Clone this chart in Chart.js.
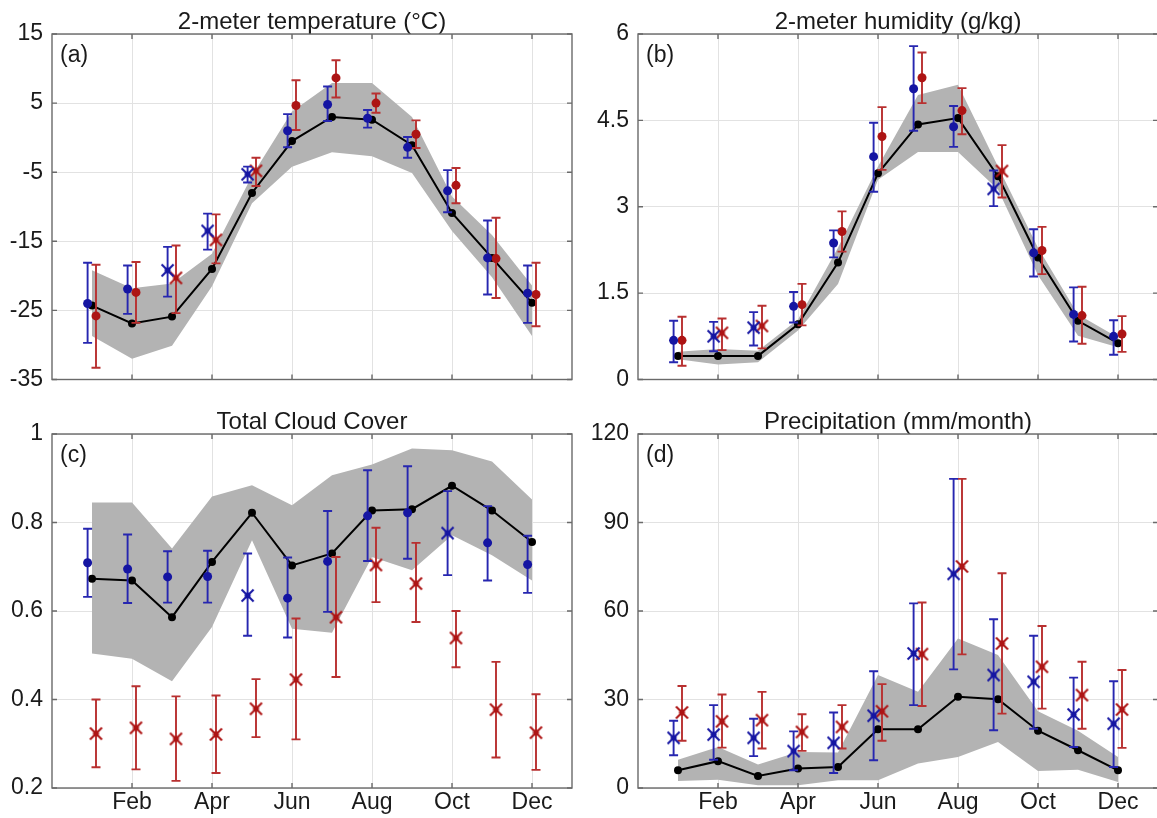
<!DOCTYPE html>
<html>
<head>
<meta charset="utf-8">
<script src="https://cdn.jsdelivr.net/npm/chart.js@4.4.1/dist/chart.umd.min.js"></script>
<style>
  html, body { margin: 0; padding: 0; background: #fff; overflow: hidden; }
  #wrap { position: relative; width: 1157px; height: 818px; overflow: hidden; }
  canvas { position: absolute; }
</style>
</head>
<body>
<div id="wrap">
  <canvas id="panelA" width="578" height="400" style="left:0;top:0"></canvas>
  <canvas id="panelB" width="578" height="400" style="left:586px;top:0"></canvas>
  <canvas id="panelC" width="578" height="418" style="left:0;top:400px"></canvas>
  <canvas id="panelD" width="578" height="418" style="left:586px;top:400px"></canvas>
</div>
<script>
// months on the x axis and the labelled ticks
var months = [1, 2, 3, 4, 5, 6, 7, 8, 9, 10, 11, 12];
var tickMonths = [2, 4, 6, 8, 10, 12];
var tickLabels = ['Feb', 'Apr', 'Jun', 'Aug', 'Oct', 'Dec'];

// (a) 2-meter temperature
var tempModel = [-24.3, -26.9, -25.9, -19.0, -8.0, -0.5, 3.0, 2.6, -1.1, -10.9, -17.4, -23.9];
var tempUpper = [-19.2, -21.8, -21.1, -16.8, -5.5, 3.8, 7.9, 7.9, 3.0, -8.5, -14.1, -21.4];
var tempLower = [-28.7, -32.0, -30.1, -21.5, -9.5, -4.2, -2.1, -2.7, -5.1, -13.5, -20.2, -28.7];
var tempBlue = [-24.0, -21.9, -19.2, -13.5, -5.3, 1.0, 4.8, 2.8, -1.4, -7.7, -17.4, -22.5];
var tempBlueHi = [-18.1, -18.5, -15.8, -11.0, -4.2, 3.4, 7.4, 4.0, 0.1, -4.7, -12.0, -18.5];
var tempBlueLo = [-29.7, -25.5, -23.0, -16.2, -6.5, -1.4, 2.4, 1.45, -2.9, -10.8, -22.7, -26.8];
var tempRed = [-25.8, -22.4, -20.3, -14.8, -4.8, 4.65, 8.65, 5.0, 0.5, -6.9, -17.5, -22.7];
var tempRedHi = [-18.4, -18.0, -15.6, -11.1, -2.9, 8.3, 11.2, 6.4, 2.5, -4.4, -11.6, -18.1];
var tempRedLo = [-33.3, -26.8, -25.4, -18.2, -7.0, 1.1, 5.8, 3.6, -1.5, -9.5, -23.2, -27.3];
var tempBlueSig = [0, 0, 1, 1, 1, 0, 0, 0, 0, 0, 0, 0];
var tempRedSig = [0, 0, 1, 1, 1, 0, 0, 0, 0, 0, 0, 0];

// (b) 2-meter humidity
var humModel = [0.41, 0.41, 0.41, 0.96, 2.03, 3.58, 4.43, 4.54, 3.53, 2.12, 1.02, 0.63];
var humUpper = [0.48, 0.53, 0.50, 1.04, 2.29, 3.70, 4.94, 5.12, 3.70, 2.29, 1.13, 0.73];
var humLower = [0.35, 0.26, 0.30, 0.85, 1.66, 3.47, 3.95, 3.95, 3.30, 1.81, 0.76, 0.56];
var humBlue = [0.68, 0.75, 0.90, 1.27, 2.37, 3.87, 5.05, 4.39, 3.31, 2.20, 1.13, 0.75];
var humBlueHi = [1.02, 1.00, 1.17, 1.52, 2.59, 4.46, 5.79, 4.75, 3.63, 2.61, 1.60, 1.03];
var humBlueLo = [0.30, 0.49, 0.59, 0.99, 2.12, 3.26, 4.32, 4.04, 3.01, 1.79, 0.66, 0.43];
var humRed = [0.68, 0.81, 0.93, 1.30, 2.57, 4.22, 5.24, 4.67, 3.62, 2.24, 1.11, 0.79];
var humRedHi = [1.09, 1.06, 1.28, 1.66, 2.92, 4.73, 5.68, 5.06, 4.07, 2.65, 1.61, 1.10];
var humRedLo = [0.24, 0.51, 0.54, 0.94, 2.22, 3.64, 4.80, 4.26, 3.16, 1.83, 0.62, 0.48];
var humBlueSig = [0, 1, 1, 0, 0, 0, 0, 0, 1, 0, 0, 0];
var humRedSig = [0, 1, 1, 0, 0, 0, 0, 0, 1, 0, 0, 0];

// (c) total cloud cover
var cloudModel = [0.673, 0.669, 0.586, 0.711, 0.822, 0.703, 0.730, 0.827, 0.830, 0.883, 0.827, 0.756];
var cloudUpper = [0.845, 0.845, 0.741, 0.859, 0.884, 0.839, 0.907, 0.931, 0.967, 0.963, 0.938, 0.852];
var cloudLower = [0.504, 0.492, 0.441, 0.564, 0.760, 0.560, 0.551, 0.722, 0.692, 0.771, 0.726, 0.669];
var cloudBlue = [0.709, 0.695, 0.677, 0.678, 0.635, 0.629, 0.712, 0.815, 0.822, 0.776, 0.754, 0.705];
var cloudBlueHi = [0.786, 0.773, 0.735, 0.736, 0.730, 0.721, 0.826, 0.918, 0.927, 0.871, 0.837, 0.770];
var cloudBlueLo = [0.632, 0.618, 0.619, 0.619, 0.544, 0.540, 0.598, 0.713, 0.718, 0.681, 0.669, 0.641];
var cloudRed = [0.323, 0.336, 0.311, 0.321, 0.379, 0.445, 0.586, 0.704, 0.662, 0.539, 0.377, 0.325];
var cloudRedHi = [0.400, 0.430, 0.407, 0.409, 0.446, 0.583, 0.722, 0.788, 0.754, 0.600, 0.485, 0.412];
var cloudRedLo = [0.247, 0.242, 0.216, 0.234, 0.315, 0.310, 0.451, 0.620, 0.575, 0.473, 0.269, 0.241];
var cloudBlueSig = [0, 0, 0, 0, 1, 0, 0, 0, 0, 1, 0, 0];
var cloudRedSig = [1, 1, 1, 1, 1, 1, 1, 1, 1, 1, 1, 1];

// (d) precipitation
var precModel = [6.0, 9.1, 4.1, 6.6, 7.1, 19.9, 19.9, 30.9, 30.1, 19.4, 12.8, 6.0];
var precUpper = [9.6, 13.9, 8.0, 12.2, 12.0, 38.3, 32.6, 50.7, 45.1, 26.0, 19.4, 10.5];
var precLower = [2.4, 2.8, 0.9, 0.9, 2.6, 2.6, 8.3, 10.5, 15.6, 5.8, 6.2, 2.0];
var precBlue = [17.0, 18.1, 17.0, 12.5, 15.3, 24.5, 45.6, 72.6, 38.3, 36.0, 24.9, 21.8];
var precBlueHi = [22.8, 28.1, 23.5, 19.2, 25.6, 39.6, 62.6, 104.8, 57.2, 51.6, 37.4, 36.2];
var precBlueLo = [11.1, 9.6, 10.8, 6.0, 5.1, 9.4, 28.1, 40.2, 19.6, 20.1, 13.9, 7.1];
var precRed = [25.6, 22.6, 23.0, 19.0, 20.7, 26.0, 45.4, 75.1, 49.0, 41.1, 31.5, 26.6];
var precRedHi = [34.6, 31.7, 32.6, 25.0, 28.1, 35.2, 62.9, 104.8, 72.8, 54.9, 42.8, 40.0];
var precRedLo = [16.0, 13.7, 13.4, 12.6, 13.4, 16.0, 27.8, 45.3, 25.2, 26.9, 20.1, 13.6];
var precBlueSig = [1, 1, 1, 1, 1, 1, 1, 1, 1, 1, 1, 1];
var precRedSig = [1, 1, 1, 1, 1, 1, 1, 1, 1, 1, 1, 1];

var FONT = "'Liberation Sans', Arial, Helvetica, sans-serif";
var BLUE = '#1515a2';
var RED = '#ad1414';
var BLUE_BAR = '#2626b0';
var RED_BAR = '#b83030';

Chart.defaults.font.family = FONT;
Chart.defaults.color = '#1a1a1a';

function pts(arr, dx) {
  return months.map(function (m, i) { return { x: m + dx, y: arr[i] }; });
}

// "x" marker with a filled centre
function crossMarker(color) {
  var c = document.createElement('canvas');
  c.width = 17; c.height = 17;
  var g = c.getContext('2d');
  g.strokeStyle = color;
  g.lineWidth = 2;
  g.beginPath();
  g.moveTo(2.5, 2.5); g.lineTo(14.5, 14.5);
  g.moveTo(14.5, 2.5); g.lineTo(2.5, 14.5);
  g.stroke();
  g.fillStyle = color;
  g.beginPath();
  g.arc(8.5, 8.5, 3, 0, Math.PI * 2);
  g.fill();
  return c;
}
var blueCross = crossMarker(BLUE);
var redCross = crossMarker(RED);

// error bars, axes box, inward ticks and panel letter
var framePlugin = {
  id: 'frame',
  beforeDatasetDraw: function (chart, args) {
    var ds = chart.data.datasets[args.index];
    if (!ds.errLo) return;
    var xs = chart.scales.x, ys = chart.scales.y, ctx = chart.ctx;
    ctx.save();
    ctx.strokeStyle = ds.errColor;
    ctx.lineWidth = 1.9;
    ctx.beginPath();
    ds.data.forEach(function (p, i) {
      var x = xs.getPixelForValue(p.x);
      var y1 = ys.getPixelForValue(ds.errLo[i]);
      var y2 = ys.getPixelForValue(ds.errHi[i]);
      ctx.moveTo(x, y1); ctx.lineTo(x, y2);
      ctx.moveTo(x - 4.5, y1); ctx.lineTo(x + 4.5, y1);
      ctx.moveTo(x - 4.5, y2); ctx.lineTo(x + 4.5, y2);
    });
    ctx.stroke();
    ctx.restore();
  },
  afterDraw: function (chart, args, opts) {
    var a = chart.chartArea, ctx = chart.ctx;
    var xs = chart.scales.x, ys = chart.scales.y;
    ctx.save();
    ctx.strokeStyle = '#6a6a6a';
    ctx.lineWidth = 1.4;
    ctx.strokeRect(a.left, a.top, a.right - a.left, a.bottom - a.top);
    ctx.beginPath();
    xs.ticks.forEach(function (t) {
      var x = xs.getPixelForValue(t.value);
      ctx.moveTo(x, a.bottom); ctx.lineTo(x, a.bottom - 5);
      ctx.moveTo(x, a.top); ctx.lineTo(x, a.top + 5);
    });
    ys.ticks.forEach(function (t) {
      var y = ys.getPixelForValue(t.value);
      ctx.moveTo(a.left, y); ctx.lineTo(a.left + 5, y);
      ctx.moveTo(a.right, y); ctx.lineTo(a.right - 5, y);
    });
    ctx.stroke();
    ctx.fillStyle = '#1a1a1a';
    ctx.font = '23px ' + FONT;
    ctx.textBaseline = 'middle';
    ctx.fillText(opts.letter, a.left + 8, a.top + 22);
    ctx.restore();
  }
};

function makePanel(id, p) {
  return new Chart(document.getElementById(id), {
    type: 'line',
    data: {
      datasets: [{
        data: pts(p.blue, -0.11),
        errLo: p.blueLo, errHi: p.blueHi, errColor: BLUE_BAR,
        showLine: false,
        pointStyle: p.blueSig.map(function (s) { return s ? blueCross : 'circle'; }),
        pointRadius: 4.5,
        pointBackgroundColor: BLUE,
        pointBorderWidth: 0,
        order: 1
      }, {
        data: pts(p.red, 0.1),
        errLo: p.redLo, errHi: p.redHi, errColor: RED_BAR,
        showLine: false,
        pointStyle: p.redSig.map(function (s) { return s ? redCross : 'circle'; }),
        pointRadius: 4.5,
        pointBackgroundColor: RED,
        pointBorderWidth: 0,
        order: 1
      }, {
        data: pts(p.model, 0),
        borderColor: '#000',
        borderWidth: 2,
        pointRadius: 4,
        pointBackgroundColor: '#000',
        pointBorderWidth: 0,
        tension: 0,
        order: 2
      }, {
        data: pts(p.upper, 0),
        borderWidth: 0,
        pointRadius: 0,
        backgroundColor: '#b3b3b3',
        fill: '+1',
        tension: 0,
        order: 3
      }, {
        data: pts(p.lower, 0),
        borderWidth: 0,
        pointRadius: 0,
        fill: false,
        tension: 0,
        order: 3
      }]
    },
    options: {
      responsive: false,
      animation: false,
      events: [],
      layout: { padding: { top: 2, right: 6, bottom: 0, left: 0 } },
      scales: {
        x: {
          type: 'linear',
          min: 0,
          max: 13,
          afterBuildTicks: function (s) {
            s.ticks = tickMonths.map(function (v) { return { value: v }; });
          },
          afterFit: function (s) { s.height = p.labels ? 30 : 12; },
          ticks: {
            display: p.labels,
            callback: function (v, i) { return tickLabels[i]; },
            font: { size: 23, lineHeight: 1 },
            padding: 3,
            maxRotation: 0,
            autoSkip: false
          },
          grid: { color: '#e2e2e2', drawTicks: false },
          border: { display: false }
        },
        y: {
          min: p.min,
          max: p.max,
          afterFit: function (s) { s.width = 52; },
          ticks: {
            stepSize: p.step,
            padding: 9,
            font: { size: 23, lineHeight: 1 },
            callback: function (v) { return String(+v.toFixed(2)); }
          },
          grid: { color: '#e2e2e2', drawTicks: false },
          border: { display: false }
        }
      },
      plugins: {
        legend: { display: false },
        tooltip: { enabled: false },
        title: {
          display: true,
          text: p.title,
          fullSize: false,
          color: '#1a1a1a',
          font: { size: 24, weight: 'normal', lineHeight: 1 },
          padding: { top: 8, bottom: 0 }
        },
        frame: { letter: p.letter }
      }
    },
    plugins: [framePlugin]
  });
}

makePanel('panelA', {
  title: '2-meter temperature (°C)', letter: '(a)', labels: false,
  min: -35, max: 15, step: 10,
  model: tempModel, upper: tempUpper, lower: tempLower,
  blue: tempBlue, blueHi: tempBlueHi, blueLo: tempBlueLo, blueSig: tempBlueSig,
  red: tempRed, redHi: tempRedHi, redLo: tempRedLo, redSig: tempRedSig
});

makePanel('panelB', {
  title: '2-meter humidity (g/kg)', letter: '(b)', labels: false,
  min: 0, max: 6, step: 1.5,
  model: humModel, upper: humUpper, lower: humLower,
  blue: humBlue, blueHi: humBlueHi, blueLo: humBlueLo, blueSig: humBlueSig,
  red: humRed, redHi: humRedHi, redLo: humRedLo, redSig: humRedSig
});

makePanel('panelC', {
  title: 'Total Cloud Cover', letter: '(c)', labels: true,
  min: 0.2, max: 1, step: 0.2,
  model: cloudModel, upper: cloudUpper, lower: cloudLower,
  blue: cloudBlue, blueHi: cloudBlueHi, blueLo: cloudBlueLo, blueSig: cloudBlueSig,
  red: cloudRed, redHi: cloudRedHi, redLo: cloudRedLo, redSig: cloudRedSig
});

makePanel('panelD', {
  title: 'Precipitation (mm/month)', letter: '(d)', labels: true,
  min: 0, max: 120, step: 30,
  model: precModel, upper: precUpper, lower: precLower,
  blue: precBlue, blueHi: precBlueHi, blueLo: precBlueLo, blueSig: precBlueSig,
  red: precRed, redHi: precRedHi, redLo: precRedLo, redSig: precRedSig
});
</script>
</body>
</html>
